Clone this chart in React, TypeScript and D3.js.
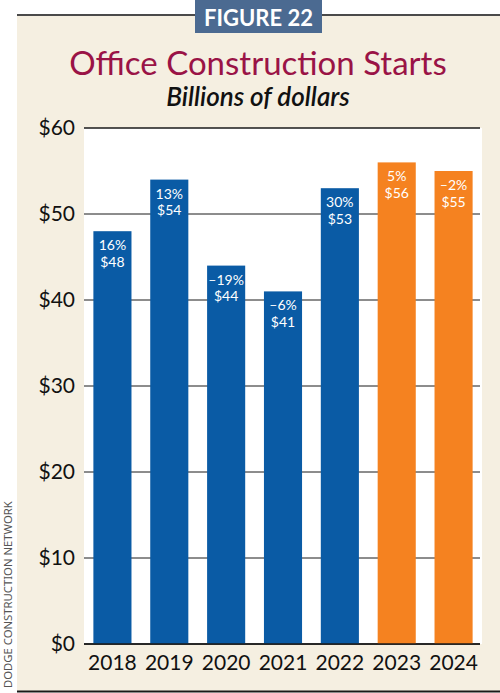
import React from "react";
import * as d3 from "d3";

const years = ["2018", "2019", "2020", "2021", "2022", "2023", "2024"];
const values = [48, 54, 44, 41, 53, 56, 55];
const changes = ["16%", "13%", "\u201319%", "\u20136%", "30%", "5%", "\u20132%"];
const forecast = [false, false, false, false, false, true, true];
const yTicks = [0, 10, 20, 30, 40, 50, 60];

const W = 500;
const H = 693;
const plot = { left: 84, right: 482, top: 128, bottom: 644 };
const FONT = "Lato, 'Source Sans Pro', 'Noto Sans', sans-serif";

export default function App() {
  const x = d3
    .scaleBand<string>()
    .domain(years)
    .range([plot.left, plot.right])
    .paddingInner(0.33)
    .paddingOuter(0.165);
  const y = d3.scaleLinear().domain([0, 60]).range([plot.bottom, plot.top]);

  return (
    <svg
      width={W}
      height={H}
      style={{ position: "absolute", left: 0, top: 0, display: "block" }}
      fontFamily={FONT}
    >
      <rect x={0} y={0} width={W} height={H} fill="#ffffff" />
      <rect x={17} y={16} width={W - 17} height={675} fill="#f5efe1" />
      <line x1={17} x2={W} y1={15} y2={15} stroke="#4a4a4a" strokeWidth={2} />
      <line x1={17} x2={W} y1={691.5} y2={691.5} stroke="#1a1a1a" strokeWidth={2} />
      <rect x={195} y={0} width={127} height={33} fill="#4b6a91" />
      <text x={258.5} y={26} textAnchor="middle" fill="#ffffff" fontSize={22} fontWeight={700}>
        FIGURE 22
      </text>
      <text x={258} y={75} textAnchor="middle" fill="#9a1346" fontSize={33}>
        Office Construction Starts
      </text>
      <text x={258} y={106} textAnchor="middle" fill="#111" fontSize={26} fontStyle="italic" fontWeight={600}>
        Billions of dollars
      </text>
      <rect x={plot.left} y={plot.top} width={plot.right - plot.left} height={plot.bottom - plot.top} fill="#ffffff" />
      {yTicks.map((t) => (
        <g key={t}>
          <line x1={plot.left} x2={plot.right - 2} y1={y(t)} y2={y(t)} stroke="#1a1a1a" strokeWidth={t === 0 || t === 60 ? 1.5 : 1} />
          <text x={75} y={y(t) + 7} textAnchor="end" fontSize={21} fill="#111">
            {"$" + t}
          </text>
        </g>
      ))}
      {years.map((yr, i) => {
        const bx = x(yr)!;
        const top = y(values[i]);
        const cx = bx + x.bandwidth() / 2;
        return (
          <g key={yr}>
            <rect
              x={bx}
              y={top}
              width={x.bandwidth()}
              height={y(0) - top}
              fill={forecast[i] ? "#f58220" : "#0a5ba5"}
            />
            <text x={cx} y={top + 19} textAnchor="middle" fill="#fff" fontSize={14}>
              {changes[i]}
            </text>
            <text x={cx} y={top + 35.5} textAnchor="middle" fill="#fff" fontSize={14}>
              {"$" + values[i]}
            </text>
            <text x={cx} y={670} textAnchor="middle" fill="#111" fontSize={21}>
              {yr}
            </text>
          </g>
        );
      })}
      <line x1={plot.left} x2={plot.right - 2} y1={y(0)} y2={y(0)} stroke="#1a1a1a" strokeWidth={1.5} />
      <text
        transform="translate(11.5,688) rotate(-90)"
        fontSize={11.3}
        fill="#555"
        fontFamily="'Noto Sans', sans-serif"
      >
        DODGE CONSTRUCTION NETWORK
      </text>
    </svg>
  );
}
